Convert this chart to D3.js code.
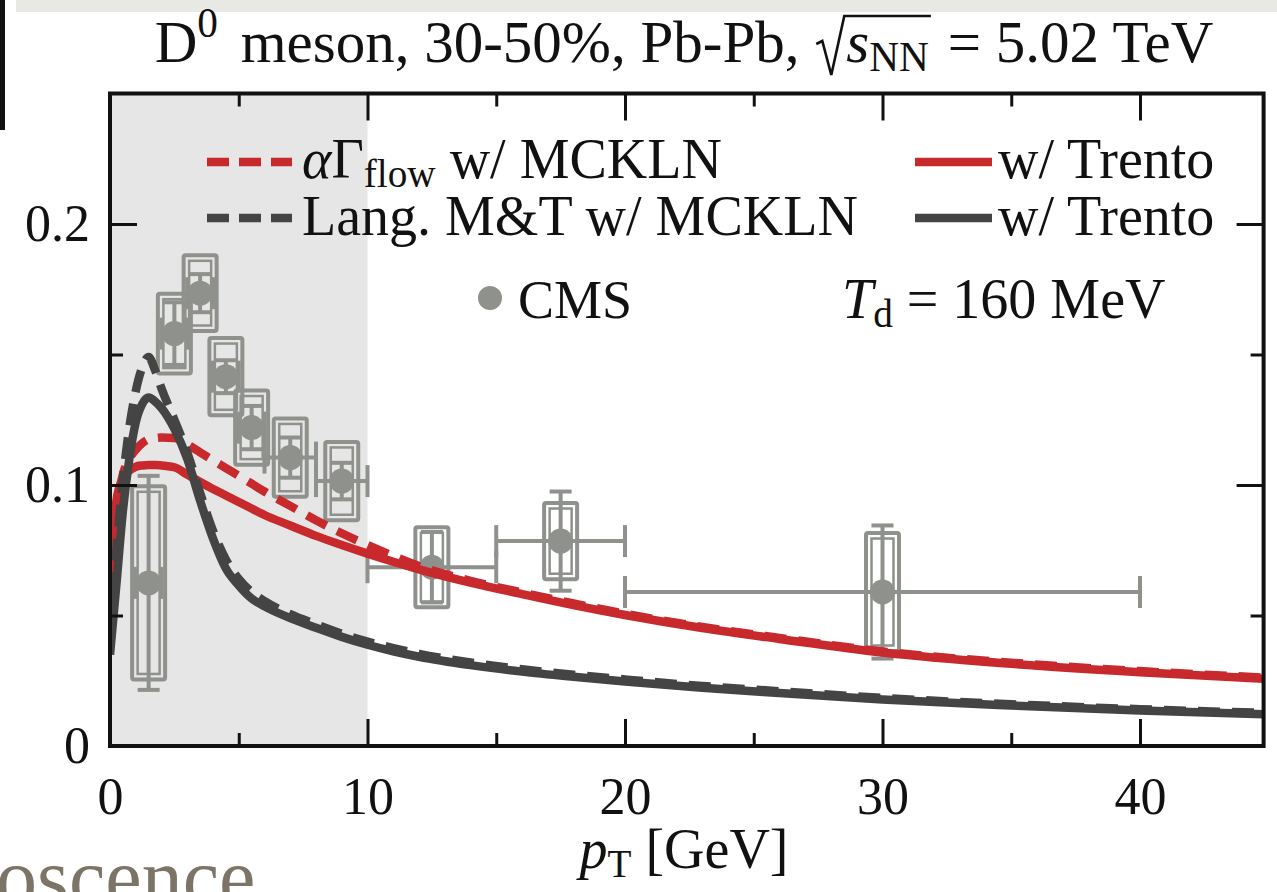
<!DOCTYPE html>
<html>
<head>
<meta charset="utf-8">
<script src="https://cdn.jsdelivr.net/npm/d3@7"></script>
<style>
  html, body { margin: 0; padding: 0; background: #fff; }
  svg { display: block; }
  text { font-family: "Liberation Serif", "Times New Roman", serif; }
</style>
</head>
<body>
<svg id="chart" width="1277" height="892"></svg>
<script>
// ---- model curves: elliptic flow v2 of D0 vs pT ----
const curvePt = [0, 0.25, 0.5, 0.75, 1.0, 1.25, 1.5, 1.75, 2.0, 2.5, 3.0, 3.5, 4.0, 4.5, 5.0, 5.5,
                 6, 7, 8, 9, 10, 11, 12, 14, 16, 18, 20, 23, 26, 30, 35, 40, 44.8];
// alpha*Gamma_flow with MCKLN initial conditions (red, dashed)
const alphaMckln = [0.060, 0.090, 0.104, 0.110, 0.1135, 0.116, 0.1175, 0.118, 0.1182, 0.118, 0.1155, 0.1125,
                    0.1095, 0.1065, 0.1035, 0.1005, 0.0975, 0.092, 0.0865, 0.0815, 0.077, 0.0728, 0.069, 0.0633,
                    0.0588, 0.0546, 0.0507, 0.0456, 0.0414, 0.0362, 0.0319, 0.0287, 0.0262];
// alpha*Gamma_flow with Trento initial conditions (red, solid)
const alphaTrento = [0.062, 0.094, 0.1025, 0.1055, 0.107, 0.1075, 0.1077, 0.1077, 0.1075, 0.1068, 0.104, 0.1012,
                     0.0985, 0.096, 0.0935, 0.091, 0.0885, 0.0845, 0.0805, 0.077, 0.0737, 0.0706, 0.0677, 0.0626,
                     0.0582, 0.054, 0.0502, 0.0452, 0.041, 0.0358, 0.0315, 0.0283, 0.0258];
// Langevin M&T with MCKLN (dark, dashed)
const langMckln = [0.045, 0.075, 0.102, 0.122, 0.136, 0.145, 0.149, 0.144, 0.137, 0.125, 0.1125, 0.097,
                   0.0825, 0.0715, 0.064, 0.059, 0.0555, 0.0505, 0.0466, 0.043, 0.040, 0.0375, 0.0353, 0.032,
                   0.0294, 0.0273, 0.0255, 0.023, 0.021, 0.0184, 0.016, 0.0141, 0.0127];
// Langevin M&T with Trento (dark, solid)
const langTrento = [0.035, 0.062, 0.090, 0.110, 0.124, 0.131, 0.1335, 0.132, 0.1295, 0.1215, 0.110, 0.094,
                    0.0795, 0.068, 0.0615, 0.0565, 0.0535, 0.049, 0.0453, 0.0418, 0.0388, 0.0363, 0.0342, 0.031,
                    0.0285, 0.0265, 0.0247, 0.0223, 0.0203, 0.0178, 0.0155, 0.0136, 0.0122];

// ---- CMS measurement ----
const cmsPt    = [1.5, 2.5, 3.5, 4.5, 5.5, 7, 9, 12.5, 17.5, 30];
const cmsPtLo  = [1, 2, 3, 4, 5, 6, 8, 10, 15, 20];
const cmsPtHi  = [2, 3, 4, 5, 6, 8, 10, 15, 20, 40];
const cmsV2    = [0.0625, 0.158, 0.1735, 0.1415, 0.122, 0.1105, 0.1015, 0.0685, 0.0785, 0.0590];
const cmsStat  = [0.041, 0.012, 0.0073, 0.0063, 0.0083, 0.0077, 0.007, 0.0135, 0.019, 0.0255];
const cmsSys   = [0.037, 0.0153, 0.0145, 0.0148, 0.0142, 0.015, 0.015, 0.0153, 0.0146, 0.0226];

// ---- axis ticks ----
const xMajorTicks = [0, 10, 20, 30, 40];
const xMinorTicks = [5, 15, 25, 35];
const yMajorTicks = [0, 0.1, 0.2];
const yMinorTicks = [0.05, 0.15];
const xDomain = [0, 44.8];
const yDomain = [0, 0.25];
const shadedRange = [0, 10];

const RED = "#c8292d", DARK = "#444444", GRAY = "#8f918c", INK = "#111";

const svg = d3.select("#chart");
svg.append("rect").attr("width", 1277).attr("height", 892).attr("fill", "#fff");

// slide decorations around the figure
svg.append("rect").attr("x", 16).attr("y", 0).attr("width", 1261).attr("height", 12).attr("fill", "#e8e8e5");
svg.append("rect").attr("x", 0).attr("y", 0).attr("width", 5).attr("height", 130).attr("fill", "#111");
svg.append("text").attr("x", -4).attr("y", 905)
  .attr("font-size", 82).attr("fill", "#7c7467").text("oscence");

const x = d3.scaleLinear().domain(xDomain).range([110, 1263.6]);
const y = d3.scaleLinear().domain(yDomain).range([746, 93.5]);
const [px0, px1] = x.range();
const [py0, py1] = y.range();

// low-pT shaded band
svg.append("rect")
  .attr("x", x(shadedRange[0])).attr("y", py1)
  .attr("width", x(shadedRange[1]) - x(shadedRange[0])).attr("height", py0 - py1)
  .attr("fill", "#e6e6e6");

svg.append("clipPath").attr("id", "plotclip").append("rect")
  .attr("x", px0).attr("y", py1).attr("width", px1 - px0).attr("height", py0 - py1);

// ---- CMS points: bin-width bars, stat bars, systematic boxes ----
const dataG = svg.append("g").attr("clip-path", "url(#plotclip)");
const boxHalf = 16.5, boxInset = 5.5, statCap = 11, binCap = 16;
cmsPt.forEach((pt, i) => {
  const cx = x(pt), cy = y(cmsV2[i]);
  const g = dataG.append("g").attr("stroke", GRAY).attr("fill", "none").attr("stroke-width", 4);
  // horizontal bin extent
  g.append("line").attr("x1", x(cmsPtLo[i])).attr("x2", x(cmsPtHi[i])).attr("y1", cy).attr("y2", cy);
  [cmsPtLo[i], cmsPtHi[i]].forEach(e => {
    g.append("line").attr("x1", x(e)).attr("x2", x(e)).attr("y1", cy - binCap).attr("y2", cy + binCap);
  });
  // statistical
  const yt = y(cmsV2[i] + cmsStat[i]), yb = y(cmsV2[i] - cmsStat[i]);
  g.append("line").attr("x1", cx).attr("x2", cx).attr("y1", yt).attr("y2", yb);
  [yt, yb].forEach(v => g.append("line").attr("x1", cx - statCap).attr("x2", cx + statCap).attr("y1", v).attr("y2", v));
  // systematic box, drawn with a double outline
  const st = y(cmsV2[i] + cmsSys[i]), sb = y(cmsV2[i] - cmsSys[i]);
  g.append("rect").attr("x", cx - boxHalf).attr("y", st).attr("width", 2 * boxHalf).attr("height", sb - st).attr("rx", 2);
  g.append("rect").attr("x", cx - boxHalf + boxInset).attr("y", st + boxInset)
    .attr("width", 2 * (boxHalf - boxInset)).attr("height", Math.max(0, sb - st - 2 * boxInset))
    .attr("stroke-width", 2.5);
  dataG.append("circle").attr("cx", cx).attr("cy", cy).attr("r", 12.5).attr("fill", GRAY);
});

// ---- model curves ----
const curveG = svg.append("g").attr("clip-path", "url(#plotclip)");
const line = vals => d3.line().x((d, i) => x(curvePt[i])).y(d => y(d)).curve(d3.curveMonotoneX)(vals);
const curves = [
  { vals: alphaTrento, color: RED, dash: null },
  { vals: alphaMckln, color: RED, dash: "22,12" },
  { vals: langTrento, color: DARK, dash: null },
  { vals: langMckln, color: DARK, dash: "22,12" }
];
curves.forEach(c => {
  curveG.append("path").attr("d", line(c.vals)).attr("fill", "none")
    .attr("stroke", c.color).attr("stroke-width", 8.5)
    .attr("stroke-dasharray", c.dash);
});

// ---- frame and ticks ----
const axG = svg.append("g");
function styleAxis(g) {
  g.select(".domain").remove();
  g.selectAll(".tick line").attr("stroke", INK).attr("stroke-width", 3);
  g.selectAll(".tick text").attr("fill", INK).attr("font-size", 52)
    .attr("font-family", "'Liberation Serif', serif");
}
axG.append("g").attr("transform", `translate(0,${py0})`)
  .call(d3.axisBottom(x).tickValues(xMajorTicks).tickSize(-27).tickPadding(31).tickFormat(d3.format("d")))
  .call(styleAxis);
axG.append("g").attr("transform", `translate(0,${py0})`)
  .call(d3.axisBottom(x).tickValues(xMinorTicks).tickSize(-13).tickFormat(""))
  .call(styleAxis);
axG.append("g").attr("transform", `translate(0,${py1})`)
  .call(d3.axisTop(x).tickValues(xMajorTicks).tickSize(-27).tickFormat(""))
  .call(styleAxis);
axG.append("g").attr("transform", `translate(0,${py1})`)
  .call(d3.axisTop(x).tickValues(xMinorTicks).tickSize(-13).tickFormat(""))
  .call(styleAxis);
axG.append("g").attr("transform", `translate(${px0},0)`)
  .call(d3.axisLeft(y).tickValues(yMajorTicks).tickSize(-27).tickPadding(20).tickFormat(d => d === 0 ? "0" : d3.format(".1f")(d)))
  .call(styleAxis);
axG.append("g").attr("transform", `translate(${px0},0)`)
  .call(d3.axisLeft(y).tickValues(yMinorTicks).tickSize(-13).tickFormat(""))
  .call(styleAxis);
axG.append("g").attr("transform", `translate(${px1},0)`)
  .call(d3.axisRight(y).tickValues(yMajorTicks).tickSize(-27).tickFormat(""))
  .call(styleAxis);
axG.append("g").attr("transform", `translate(${px1},0)`)
  .call(d3.axisRight(y).tickValues(yMinorTicks).tickSize(-13).tickFormat(""))
  .call(styleAxis);
axG.append("rect").attr("x", px0).attr("y", py1).attr("width", px1 - px0).attr("height", py0 - py1)
  .attr("fill", "none").attr("stroke", INK).attr("stroke-width", 4);

// ---- text with sub/superscripts, laid out piece by piece ----
function richText(parent, parts, opts) {
  const g = parent.append("g");
  let cx = 0;
  const placed = [];
  parts.forEach(p => {
    if (p.space !== undefined) { placed.push({ x0: cx, x1: cx + p.space }); cx += p.space; return; }
    const size = opts.size * (p.scale || 1);
    const t = g.append("text").attr("x", cx).attr("y", p.dy || 0)
      .attr("font-size", size).attr("font-style", p.italic ? "italic" : "normal")
      .attr("fill", opts.fill || INK).style("white-space", "pre").text(p.t);
    const w = t.node().getComputedTextLength();
    placed.push({ x0: cx, x1: cx + w });
    cx += w + (p.after || 0);
  });
  const x0 = opts.anchor === "middle" ? opts.x - cx / 2 : opts.anchor === "end" ? opts.x - cx : opts.x;
  g.attr("transform", `translate(${x0},${opts.y})`);
  return { g, placed, width: cx };
}

// title
const title = richText(svg, [
  { t: "D" }, { t: "0", scale: 0.7, dy: -25, after: 8 },
  { t: " meson, 30-50%, Pb-Pb, " },
  { space: 32 },
  { t: "s", italic: true }, { t: "NN", scale: 0.7, dy: 9, after: 4 },
  { t: " = 5.02 TeV" }
], { x: 684, y: 62, size: 59, anchor: "middle" });
{
  const r = title.placed[3], end = title.placed[5].x1 + 2;
  title.g.append("path")
    .attr("d", `M${r.x0 + 2},-18 L${r.x0 + 8},-21 L${r.x0 + 17},13 L${r.x0 + 30},-46 H${end}`)
    .attr("fill", "none").attr("stroke", INK).attr("stroke-width", 2.6).attr("stroke-linejoin", "miter");
}

// x-axis title
richText(svg, [
  { t: "p", italic: true }, { t: "T", scale: 0.7, dy: 9, after: 14 }, { t: "[GeV]" }
], { x: 684, y: 868, size: 56, anchor: "middle" });

// ---- legend ----
const legG = svg.append("g");
const legendSamples = [
  { x1: 207, x2: 292, yy: 162, color: RED, dash: "22,10" },
  { x1: 915, x2: 992, yy: 162, color: RED, dash: null },
  { x1: 207, x2: 292, yy: 218, color: DARK, dash: "22,10" },
  { x1: 915, x2: 992, yy: 218, color: DARK, dash: null }
];
legendSamples.forEach(s => legG.append("line")
  .attr("x1", s.x1).attr("x2", s.x2).attr("y1", s.yy).attr("y2", s.yy)
  .attr("stroke", s.color).attr("stroke-width", 8.5).attr("stroke-dasharray", s.dash));
legG.append("circle").attr("cx", 490).attr("cy", 298).attr("r", 12).attr("fill", GRAY);

const LS = 56;
richText(legG, [{ t: "α", italic: true }, { t: "Γ" }, { t: "flow", scale: 0.7, dy: 9, after: 14 }, { t: "w/ MCKLN" }],
  { x: 302, y: 178, size: LS });
richText(legG, [{ t: "w/ Trento" }], { x: 998, y: 178, size: LS });
richText(legG, [{ t: "Lang. M&T w/ MCKLN" }], { x: 302, y: 235, size: LS });
richText(legG, [{ t: "w/ Trento" }], { x: 998, y: 235, size: LS });
richText(legG, [{ t: "CMS" }], { x: 518, y: 318, size: LS - 2 });
richText(legG, [{ t: "T", italic: true }, { t: "d", scale: 0.7, dy: 9 }, { t: " = 160 MeV" }],
  { x: 842, y: 318, size: LS });
</script>
</body>
</html>
